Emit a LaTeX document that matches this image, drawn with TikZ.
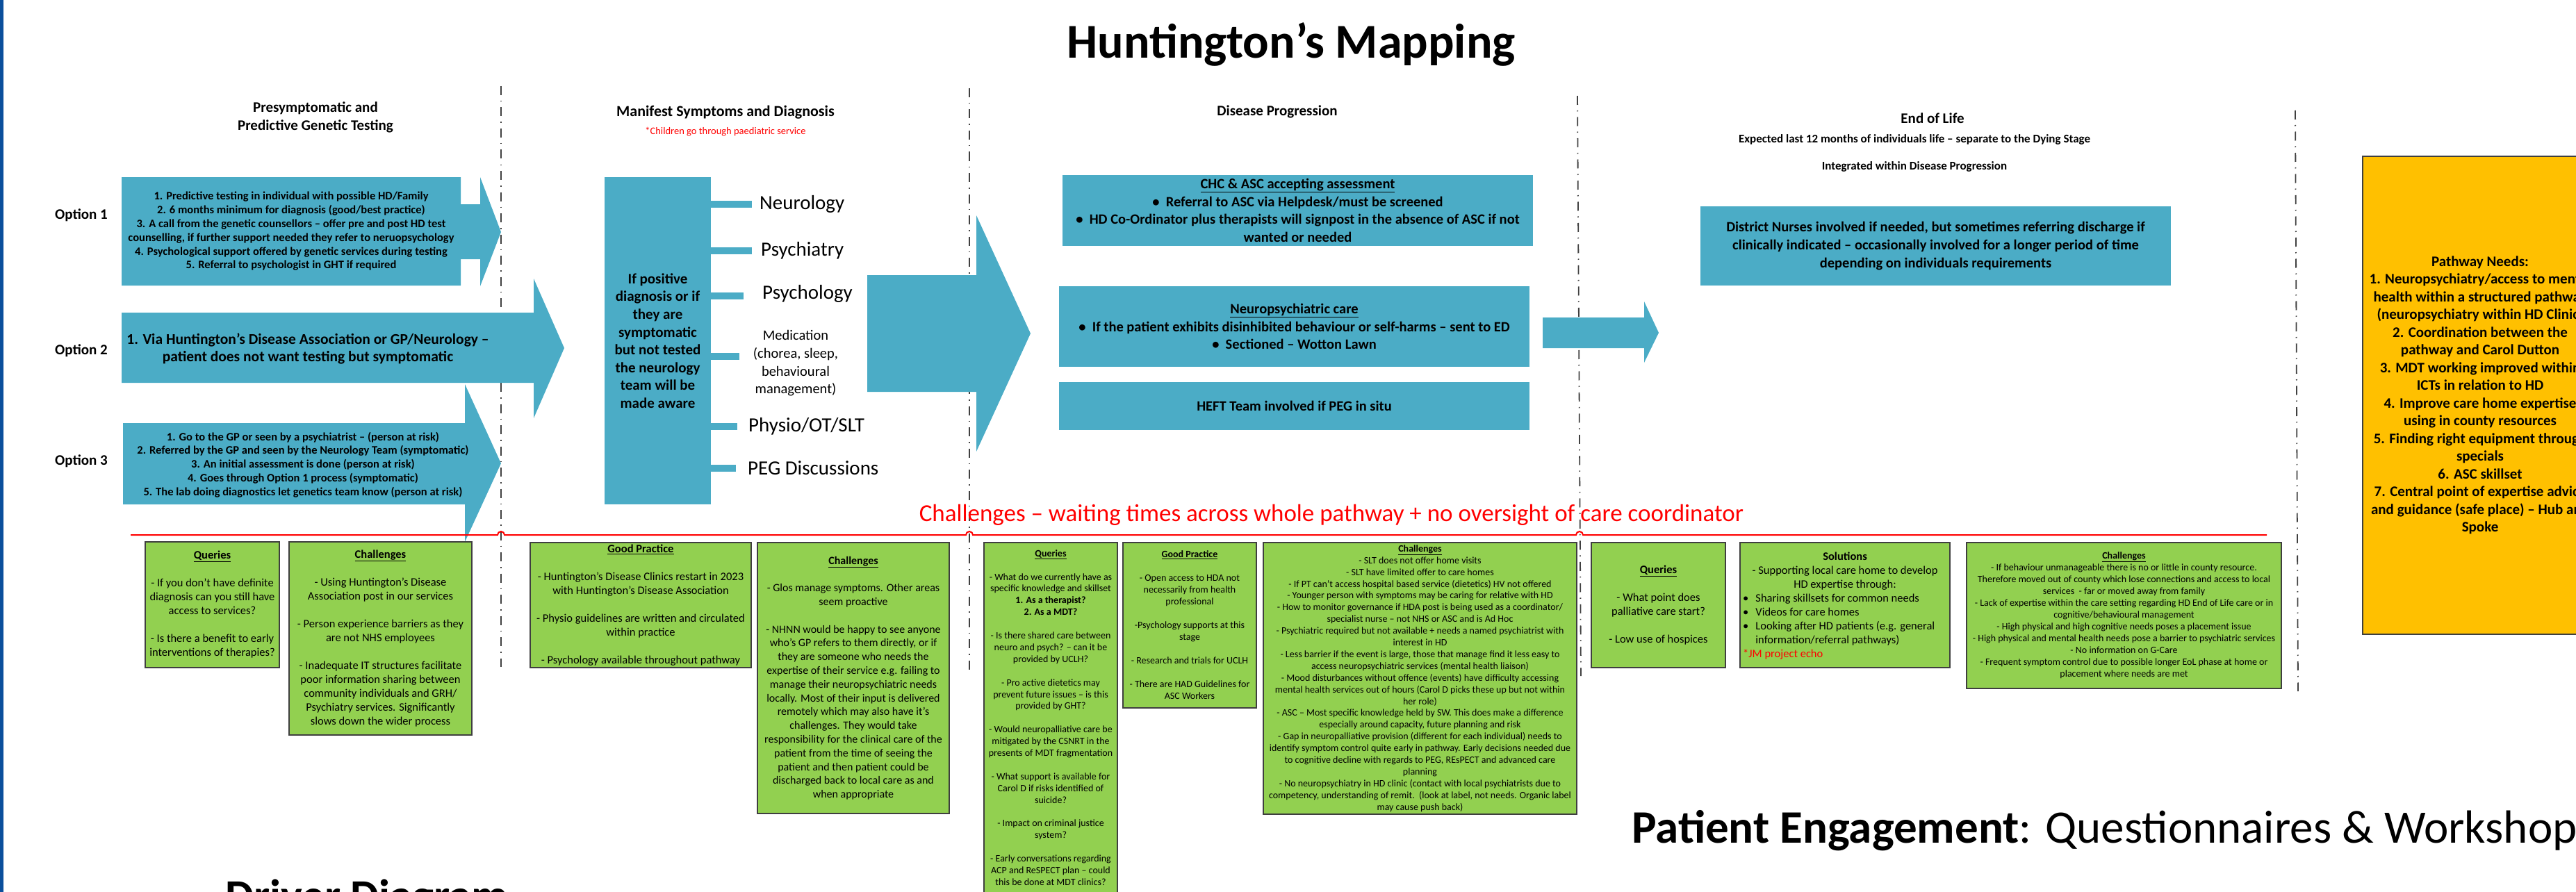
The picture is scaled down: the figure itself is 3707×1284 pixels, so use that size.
\documentclass[tikz,border=0pt]{standalone}
\usepackage{fontspec}
\setmainfont{Carlito}
\newcommand\fsz[2]{\fontsize{#1pt}{#2pt}\selectfont}
\definecolor{tealc}{HTML}{4BACC6}
\definecolor{grnc}{HTML}{92D050}
\definecolor{ylwc}{HTML}{FFC000}
\definecolor{bordc}{HTML}{3F3F3F}
\definecolor{bluec}{HTML}{0B4F9C}
\definecolor{divc}{HTML}{404040}
\begin{document}
\begin{tikzpicture}[x=1pt,y=-1pt,
  tealbox/.style={fill=tealc, draw=none, inner sep=0pt, align=center},
  grnbox/.style={fill=grnc, draw=bordc, line width=1.5pt, inner sep=0pt, align=center},
  ylwbox/.style={fill=ylwc, draw=bordc, line width=1.2pt, inner sep=0pt, align=center},
  hdr/.style={inner sep=0pt, align=center},
  lbl/.style={inner sep=0pt, anchor=west, font=\fsz{29}{35}},
  bar/.style={draw=tealc, line width=10pt},
  divline/.style={draw=divc, line width=1.8pt, dash pattern=on 13pt off 8pt on 1.5pt off 8pt},
  txt/.style={inner sep=0pt, align=center}]

\useasboundingbox (0,0) rectangle (3707,1284);
\fill[bluec] (0,0) rectangle (5,1284);

% title
\node[hdr, font=\fsz{70}{84}\bfseries] (title) at (1858,64) {Huntington’s Mapping};

% dividers
\coordinate (d1t) at (721,124);  \coordinate (d1b) at (721,960);
\coordinate (d2t) at (1395,127); \coordinate (d2b) at (1395,964);
\coordinate (d3t) at (2270,138); \coordinate (d3b) at (2275,973);
\coordinate (d4t) at (3303,159); \coordinate (d4b) at (3307,995);
\draw[divline] (d1t) -- (d1b);
\draw[divline] (d2t) -- (d2b);
\draw[divline] (d3t) -- (d3b);
\draw[divline] (d4t) -- (d4b);

% column headers
\node[hdr, font=\fsz{21}{26}\bfseries] (h1) at (454,169) {Presymptomatic and\\Predictive Genetic Testing};
\node[hdr, font=\fsz{22}{26}\bfseries] (h2) at (1044,162) {Manifest Symptoms and Diagnosis};
\node[hdr, text=red, font=\fsz{14.5}{17}] (h2s) at (1044,190) {*Children go through paediatric service};
\node[hdr, font=\fsz{21}{25}\bfseries] (h3) at (1838,161) {Disease Progression};
\node[hdr, font=\fsz{21}{25}\bfseries] (h4) at (2781,170) {End of Life};
\node[hdr, font=\fsz{17}{20}\bfseries] (h4a) at (2755,201) {Expected last 12 months of individuals life – separate to the Dying Stage};
\node[hdr, font=\fsz{17}{20}\bfseries] (h4b) at (2755,240) {Integrated within Disease Progression};

% option labels
\node[hdr, font=\fsz{21}{25}\bfseries] (o1) at (117,310) {Option 1};
\node[hdr, font=\fsz{21}{25}\bfseries] (o2) at (117,505) {Option 2};
\node[hdr, font=\fsz{21}{25}\bfseries] (o3) at (117,664) {Option 3};

% option arrows
\fill[tealc] (175,255) -- (663,255) -- (663,294) -- (691,294) -- (691,255) -- (721,334) -- (691,412) -- (691,373) -- (663,373) -- (663,411) -- (175,411) -- cycle;
\node[txt, font=\fsz{16.5}{19.8}\bfseries] (o1t) at (419,333) {1. Predictive testing in individual with possible HD/Family\\2. 6 months minimum for diagnosis (good/best practice)\\3. A call from the genetic counsellors – offer pre and post HD test\\counselling, if further support needed they refer to neruopsychology\\4. Psychological support offered by genetic services during testing\\5. Referral to psychologist in GHT if required};

\fill[tealc] (175,450) -- (768,450) -- (768,401) -- (812,501) -- (768,602) -- (768,551) -- (175,551) -- cycle;
\node[txt, font=\fsz{21.5}{25}\bfseries] (o2t) at (443,502) {1. Via Huntington’s Disease Association or GP/Neurology –\\patient does not want testing but symptomatic};

\fill[tealc] (177,609) -- (669,609) -- (669,553) -- (721,667) -- (669,780) -- (669,726) -- (177,726) -- cycle;
\node[txt, font=\fsz{16.5}{19.8}\bfseries] (o3t) at (436,669) {1. Go to the GP or seen by a psychiatrist – (person at risk)\\2. Referred by the GP and seen by the Neurology Team (symptomatic)\\3. An initial assessment is done (person at risk)\\4. Goes through Option 1 process (symptomatic)\\5. The lab doing diagnostics let genetics team know (person at risk)};

% manifest box
\node[tealbox, minimum width=153pt, minimum height=471pt, font=\fsz{21}{25.6}\bfseries] (mbox) at (946.5,490.5) {If positive\\diagnosis or if\\they are\\symptomatic\\but not tested\\the neurology\\team will be\\made aware};

\node[lbl] (neu) at (1093,294) {Neurology};
\node[lbl] (psyc) at (1095,361) {Psychiatry};
\node[lbl] (psyl) at (1097,423) {Psychology};
\node[txt, font=\fsz{20.5}{25.7}] (med) at (1145,523) {Medication\\(chorea, sleep,\\behavioural\\management)};
\node[lbl] (phy) at (1077,614) {Physio/OT/SLT};
\node[lbl] (peg) at (1076,674) {PEG Discussions};

\draw[bar] (mbox.east |- neu.west) -- ([xshift=-11pt]neu.west);
\draw[bar] (mbox.east |- psyc.west) -- ([xshift=-13pt]psyc.west);
\draw[bar] (mbox.east |- 0,426) -- (1070,426);
\draw[bar] (mbox.east |- 0,513) -- (1064,513);
\draw[bar] (mbox.east |- phy.west) -- ([xshift=-16pt]phy.west);
\draw[bar] (mbox.east |- peg.west) -- ([xshift=-17pt]peg.west);

% big arrow to disease progression
\fill[tealc] (1248,396) -- (1405,396) -- (1405,310) -- (1483,480) -- (1405,650) -- (1405,564) -- (1248,564) -- cycle;

% disease progression boxes
\node[tealbox, minimum width=677pt, minimum height=102pt, font=\fsz{20.5}{25.7}\bfseries] (chc) at (1867.5,303) {\underline{CHC \& ASC accepting assessment}\\\textbullet\ \ Referral to ASC via Helpdesk/must be screened\\\textbullet\ \ HD Co-Ordinator plus therapists will signpost in the absence of ASC if not\\wanted or needed};
\node[tealbox, minimum width=677pt, minimum height=116pt, font=\fsz{20.5}{25.7}\bfseries] (npc) at (1862.5,470) {\underline{Neuropsychiatric care}\\\textbullet\ \ If the patient exhibits disinhibited behaviour or self-harms – sent to ED\\\textbullet\ \ Sectioned – Wotton Lawn};
\node[tealbox, minimum width=677pt, minimum height=69pt, font=\fsz{20.5}{25.7}\bfseries] (heft) at (1862.5,584.5) {HEFT Team involved if PEG in situ};

% arrow to end of life
\fill[tealc] (2220,457) -- (2366,457) -- (2366,434) -- (2387,479) -- (2366,522) -- (2366,501) -- (2220,501) -- cycle;

\node[tealbox, minimum width=677pt, minimum height=114pt, font=\fsz{20.5}{26}\bfseries] (dn) at (2785.5,354) {District Nurses involved if needed, but sometimes referring discharge if\\clinically indicated – occasionally involved for a longer period of time\\depending on individuals requirements};

% pathway needs
\node[ylwbox, minimum width=338pt, minimum height=688pt, font=\fsz{21}{25.5}\bfseries] (pn) at (3569,569) {Pathway Needs:\\1. Neuropsychiatry/access to mental\\health within a structured pathway\\(neuropsychiatry within HD Clinic)\\2. Coordination between the\\pathway and Carol Dutton\\3. MDT working improved within\\ICTs in relation to HD\\4. Improve care home expertise\\using in county resources\\5. Finding right equipment through\\specials\\6. ASC skillset\\7. Central point of expertise advice\\and guidance (safe place) – Hub and\\Spoke};

% red challenge line
\draw[red, line width=2pt] (188,770) -- (716,770) arc[start angle=180, end angle=360, radius=5] -- (1390,770) arc[start angle=180, end angle=360, radius=5] -- (2268,770) arc[start angle=180, end angle=360, radius=5] -- (3262,770);
\node[hdr, text=red, font=\fsz{35}{42}] (chl) at (1916,741) {Challenges – waiting times across whole pathway + no oversight of care coordinator};

% green boxes
\node[grnbox, minimum width=193pt, minimum height=181pt, font=\fsz{16.5}{20}] (q1) at (305.5,870.5) {\textbf{\underline{Queries}}\\[20pt]- If you don’t have definite\\diagnosis can you still have\\access to services?\\[20pt]- Is there a benefit to early\\interventions of therapies?};

\node[grnbox, minimum width=263pt, minimum height=278pt, font=\fsz{16.5}{20}] (c1) at (547.5,919) {\textbf{\underline{Challenges}}\\[20pt]- Using Huntington’s Disease\\Association post in our services\\[20pt]- Person experience barriers as they\\are not NHS employees\\[20pt]- Inadequate IT structures facilitate\\poor information sharing between\\community individuals and GRH/\\Psychiatry services. Significantly\\slows down the wider process};

\node[grnbox, minimum width=318pt, minimum height=180pt, font=\fsz{16.5}{20}] (gp1) at (922,871) {\textbf{\underline{Good Practice}}\\[20pt]- Huntington’s Disease Clinics restart in 2023\\with Huntington’s Disease Association\\[20pt]- Physio guidelines are written and circulated\\within practice\\[20pt]- Psychology available throughout pathway};

\node[grnbox, minimum width=276pt, minimum height=390pt, font=\fsz{16}{19.8}] (c2) at (1228,976) {\textbf{\underline{Challenges}}\\[19.8pt]- Glos manage symptoms. Other areas\\seem proactive\\[19.8pt]- NHNN would be happy to see anyone\\who’s GP refers to them directly, or if\\they are someone who needs the\\expertise of their service e.g. failing to\\manage their neuropsychiatric needs\\locally. Most of their input is delivered\\remotely which may also have it’s\\challenges. They would take\\responsibility for the clinical care of the\\patient from the time of seeing the\\patient and then patient could be\\discharged back to local care as and\\when appropriate};

\node[grnbox, minimum width=192pt, minimum height=530pt] (q2) at (1512,1046) {};
\node[txt, font=\fsz{14}{16.9}] (q2t) at (1512,1033) {\textbf{\underline{Queries}}\\[16.9pt]- What do we currently have as\\specific knowledge and skillset\\\textbf{1. As a therapist?}\\\textbf{2. As a MDT?}\\[16.9pt]- Is there shared care between\\neuro and psych? – can it be\\provided by UCLH?\\[16.9pt]- Pro active dietetics may\\prevent future issues – is this\\provided by GHT?\\[16.9pt]- Would neuropalliative care be\\mitigated by the CSNRT in the\\presents of MDT fragmentation\\[16.9pt]- What support is available for\\Carol D if risks identified of\\suicide?\\[16.9pt]- Impact on criminal justice\\system?\\[16.9pt]- Early conversations regarding\\ACP and ReSPECT plan – could\\this be done at MDT clinics?};

\node[grnbox, minimum width=192pt, minimum height=238pt, font=\fsz{14}{17}] (gp2) at (1712,900) {\textbf{\underline{Good Practice}}\\[17pt]- Open access to HDA not\\necessarily from health\\professional\\[17pt]-Psychology supports at this\\stage\\[17pt]- Research and trials for UCLH\\[17pt]- There are HAD Guidelines for\\ASC Workers};

\node[grnbox, minimum width=451pt, minimum height=391pt, font=\fsz{14}{16.9}] (c3) at (2043.5,976.5) {\textbf{\underline{Challenges}}\\- SLT does not offer home visits\\- SLT have limited offer to care homes\\- If PT can’t access hospital based service (dietetics) HV not offered\\- Younger person with symptoms may be caring for relative with HD\\- How to monitor governance if HDA post is being used as a coordinator/\\specialist nurse – not NHS or ASC and is Ad Hoc\\- Psychiatric required but not available + needs a named psychiatrist with\\interest in HD\\- Less barrier if the event is large, those that manage find it less easy to\\access neuropsychiatric services (mental health liaison)\\- Mood disturbances without offence (events) have difficulty accessing\\mental health services out of hours (Carol D picks these up but not within\\her role)\\- ASC – Most specific knowledge held by SW. This does make a difference\\especially around capacity, future planning and risk\\- Gap in neuropalliative provision (different for each individual) needs to\\identify symptom control quite early in pathway. Early decisions needed due\\to cognitive decline with regards to PEG, REsPECT and advanced care\\planning\\- No neuropsychiatry in HD clinic (contact with local psychiatrists due to\\competency, understanding of remit.\ \ (look at label, not needs. Organic label\\may cause push back)};

\node[grnbox, minimum width=193pt, minimum height=180pt, font=\fsz{16.5}{20}] (q3) at (2386.5,871) {\textbf{\underline{Queries}}\\[20pt]- What point does\\palliative care start?\\[20pt]- Low use of hospices};

\node[grnbox, minimum width=302pt, minimum height=180pt] (sol) at (2655,871) {};
\node[txt, font=\fsz{16.5}{20}] (solh) at (2655,822) {\textbf{Solutions}\\- Supporting local care home to develop\\HD expertise through:};
\node[inner sep=0pt, anchor=west, font=\fsz{16.5}{20}] (soll) at (2508,892) {\begin{tabular}{@{}l@{\hspace{10pt}}l@{}}\textbullet & Sharing skillsets for common needs\\\textbullet & Videos for care homes\\\textbullet & Looking after HD patients (e.g. general\\ & information/referral pathways)\end{tabular}};
\node[inner sep=0pt, anchor=west, text=red, font=\fsz{16.5}{20}] (solr) at (2508,942) {*JM project echo};

\node[grnbox, minimum width=453pt, minimum height=210pt, font=\fsz{14}{17}] (c4) at (3056.5,886) {\textbf{\underline{Challenges}}\\- If behaviour unmanageable there is no or little in county resource.\\Therefore moved out of county which lose connections and access to local\\services\ \ - far or moved away from family\\- Lack of expertise within the care setting regarding HD End of Life care or in\\cognitive/behavioural management\\- High physical and high cognitive needs poses a placement issue\\- High physical and mental health needs pose a barrier to psychiatric services\\- No information on G-Care\\- Frequent symptom control due to possible longer EoL phase at home or\\placement where needs are met};

% bottom headings
\node[anchor=base west, inner sep=0pt, font=\fsz{67}{80}] (pe) at (2348,1213) {\textbf{Patient Engagement}: Questionnaires \& Workshops};
\node[anchor=base west, inner sep=0pt, font=\fsz{65}{78}\bfseries] (dd) at (324,1311) {Driver Diagram};
\end{tikzpicture}
\end{document}
